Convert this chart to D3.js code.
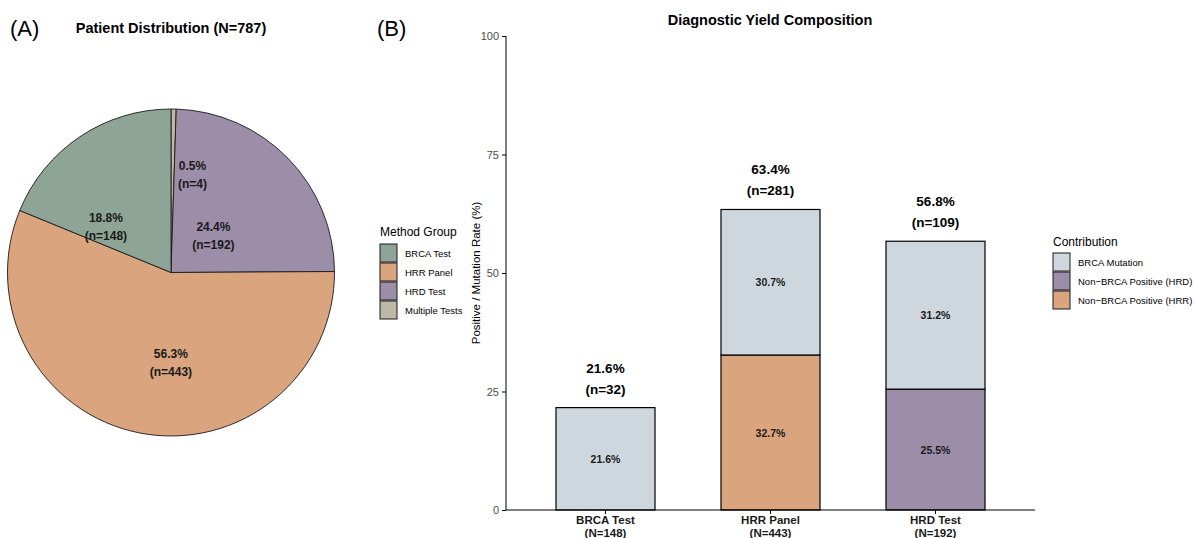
<!DOCTYPE html>
<html lang="en">
<head>
<meta charset="utf-8">
<title>Patient distribution and diagnostic yield</title>
<script src="https://d3js.org/d3.v7.min.js"></script>
<style>
  body { margin: 0; background: #fff; }
  svg text { font-family: "Liberation Sans", Arial, sans-serif; }
  .axis path, .axis line { stroke: #000; }
</style>
</head>
<body>
<script>
// ---- data: panel A (pie) ----
var pieGroups = ["Multiple Tests", "HRD Test", "HRR Panel", "BRCA Test"];
var pieCounts = [4, 192, 443, 148];
var piePct = ["0.5%", "24.4%", "56.3%", "18.8%"];
var legendA = ["BRCA Test", "HRR Panel", "HRD Test", "Multiple Tests"];

// ---- data: panel B (stacked bars) ----
var methods = ["BRCA Test", "HRR Panel", "HRD Test"];
var methodN = [148, 443, 192];
var brcaMut = [21.6, 30.7, 31.2];
var nonBrcaHRR = [0, 32.7, 0];
var nonBrcaHRD = [0, 0, 25.5];
var totalPct = [21.6, 63.4, 56.8];
var positives = [32, 281, 109];
var yTicks = [0, 25, 50, 75, 100];
var legendB = ["BRCA Mutation", "Non\u2212BRCA Positive (HRD)", "Non\u2212BRCA Positive (HRR)"];

var colA = {"BRCA Test": "#8ea497", "HRR Panel": "#d9a47e", "HRD Test": "#9c8da8", "Multiple Tests": "#bdb9a6"};
var colB = {"BRCA Mutation": "#cfd7de", "Non\u2212BRCA Positive (HRD)": "#9c8da8", "Non\u2212BRCA Positive (HRR)": "#d9a47e"};

var W = 1195, H = 538;
var svg = d3.select("body").append("svg").attr("width", W).attr("height", H);

// panel tags
svg.append("text").attr("x", 10).attr("y", 36).attr("font-size", 22).text("(A)");
svg.append("text").attr("x", 377).attr("y", 36).attr("font-size", 22).text("(B)");

// ================= panel A =================
var cx = 171, cy = 272.5, R = 163.5;
svg.append("text").attr("x", 171).attr("y", 33).attr("text-anchor", "middle")
   .attr("font-size", 14.5).attr("font-weight", "bold").text("Patient Distribution (N=787)");

var pieData = pieGroups.map(function(g, i){ return {g: g, n: pieCounts[i], p: piePct[i]}; });
var pie = d3.pie().sort(null).value(function(d){ return d.n; });
var arc = d3.arc().innerRadius(0).outerRadius(R);
var labelArc = d3.arc().innerRadius(R * 0.55).outerRadius(R * 0.55);
var arcs = pie(pieData);

var gPie = svg.append("g").attr("transform", "translate(" + cx + "," + cy + ")");
gPie.selectAll("path").data(arcs).enter().append("path")
    .attr("d", arc)
    .attr("fill", function(d){ return colA[d.data.g]; })
    .attr("stroke", "#1a1a1a").attr("stroke-width", 0.9);

// ggplot-ish label placement tweak
var nudge = {"BRCA Test": [-15, 28], "HRD Test": [-22, 25], "HRR Panel": [17, 1], "Multiple Tests": [20, -9]};
var lab = gPie.selectAll("g.lab").data(arcs).enter().append("g").attr("class", "lab")
    .attr("transform", function(d){
      var c = labelArc.centroid(d), o = nudge[d.data.g];
      return "translate(" + (c[0] + o[0]) + "," + (c[1] + o[1]) + ")";
    });
lab.append("text").attr("text-anchor", "middle").attr("y", -4)
   .attr("font-size", 12).attr("font-weight", "bold").attr("fill", "#1a1a1a")
   .text(function(d){ return d.data.p; });
lab.append("text").attr("text-anchor", "middle").attr("y", 14)
   .attr("font-size", 12).attr("font-weight", "bold").attr("fill", "#1a1a1a")
   .text(function(d){ return "(n=" + d.data.n + ")"; });

// legend A
var lgA = svg.append("g").attr("transform", "translate(380,232)");
lgA.append("text").attr("x", 0).attr("y", 4).attr("font-size", 12).text("Method Group");
var itA = lgA.selectAll("g.it").data(legendA).enter().append("g")
    .attr("transform", function(d, i){ return "translate(0," + (12 + i * 19) + ")"; });
itA.append("rect").attr("width", 17).attr("height", 18)
   .attr("fill", function(d){ return colA[d]; }).attr("stroke", "#1a1a1a").attr("stroke-width", 1);
itA.append("text").attr("x", 25).attr("y", 13).attr("font-size", 9.5).text(function(d){ return d; });

// ================= panel B =================
var x0 = 506, x1 = 1035, yTop = 36, yBot = 510;
var x = d3.scaleBand().domain(methods).range([x0, x1]).paddingInner(0.4).paddingOuter(0.303);
var y = d3.scaleLinear().domain([0, 100]).range([yBot, yTop]);

svg.append("text").attr("x", 770).attr("y", 25).attr("text-anchor", "middle")
   .attr("font-size", 14.5).attr("font-weight", "bold").text("Diagnostic Yield Composition");

// stack order bottom->top: HRR / HRD non-BRCA, then BRCA mutation
var rows = methods.map(function(m, i){
  return {m: m, hrr: nonBrcaHRR[i], hrd: nonBrcaHRD[i], brca: brcaMut[i]};
});
var stack = d3.stack().keys(["hrr", "hrd", "brca"]);
var series = stack(rows);
var keyName = {hrr: "Non\u2212BRCA Positive (HRR)", hrd: "Non\u2212BRCA Positive (HRD)", brca: "BRCA Mutation"};

var gBars = svg.append("g");
series.forEach(function(s){
  var seg = s.filter(function(d){ return d[1] - d[0] > 0; });
  gBars.selectAll("rect." + s.key).data(seg).enter().append("rect")
      .attr("class", s.key)
      .attr("x", function(d){ return x(d.data.m); })
      .attr("width", x.bandwidth())
      .attr("y", function(d){ return y(d[1]); })
      .attr("height", function(d){ return y(d[0]) - y(d[1]); })
      .attr("fill", colB[keyName[s.key]])
      .attr("stroke", "#000").attr("stroke-width", 1.2);
  gBars.selectAll("text." + s.key).data(seg).enter().append("text")
      .attr("class", s.key)
      .attr("x", function(d){ return x(d.data.m) + x.bandwidth() / 2; })
      .attr("y", function(d){ return y((d[0] + d[1]) / 2) + 4; })
      .attr("text-anchor", "middle").attr("font-size", 10.5).attr("font-weight", "bold")
      .attr("fill", "#1a1a1a")
      .text(function(d){ return (d[1] - d[0]).toFixed(1) + "%"; });
});

// totals above bars
var tops = gBars.selectAll("g.top").data(methods).enter().append("g").attr("class", "top")
    .attr("transform", function(d, i){
      return "translate(" + (x(d) + x.bandwidth() / 2) + "," + y(totalPct[i]) + ")";
    });
tops.append("text").attr("y", -35).attr("text-anchor", "middle").attr("font-size", 13.5)
    .attr("font-weight", "bold").text(function(d, i){ return totalPct[i].toFixed(1) + "%"; });
tops.append("text").attr("y", -14).attr("text-anchor", "middle").attr("font-size", 13.5)
    .attr("font-weight", "bold").text(function(d, i){ return "(n=" + positives[i] + ")"; });

// axes
var yAxis = d3.axisLeft(y).tickValues(yTicks).tickSize(4).tickPadding(3);
var gy = svg.append("g").attr("class", "axis").attr("transform", "translate(" + x0 + ",0)").call(yAxis);
gy.select(".domain").attr("d", "M0," + yBot + "V" + yTop);
gy.selectAll(".tick text").attr("fill", "#4d4d4d").attr("font-size", 11);

var xAxis = d3.axisBottom(x).tickSize(4).tickFormat("");
var gx = svg.append("g").attr("class", "axis").attr("transform", "translate(0," + yBot + ")").call(xAxis);
gx.select(".domain").attr("d", "M" + x0 + ",0H" + x1);
gx.selectAll(".tick").each(function(d, i){
  var t = d3.select(this);
  t.append("text").attr("y", 14).attr("fill", "#1a1a1a").attr("font-size", 11.5)
   .attr("font-weight", "bold").attr("text-anchor", "middle").text(d);
  t.append("text").attr("y", 26.5).attr("fill", "#1a1a1a").attr("font-size", 11.5)
   .attr("font-weight", "bold").attr("text-anchor", "middle").text("(N=" + methodN[i] + ")");
});

svg.append("text").attr("transform", "translate(480," + ((yTop + yBot) / 2) + ") rotate(-90)")
   .attr("text-anchor", "middle").attr("font-size", 11.5).text("Positive / Mutation Rate (%)");

// legend B
var lgB = svg.append("g").attr("transform", "translate(1053,242)");
lgB.append("text").attr("x", 0).attr("y", 4).attr("font-size", 12).text("Contribution");
var itB = lgB.selectAll("g.it").data(legendB).enter().append("g")
    .attr("transform", function(d, i){ return "translate(0," + (11 + i * 19) + ")"; });
itB.append("rect").attr("width", 17).attr("height", 18)
   .attr("fill", function(d){ return colB[d]; }).attr("stroke", "#1a1a1a").attr("stroke-width", 1);
itB.append("text").attr("x", 25).attr("y", 13).attr("font-size", 9.5).text(function(d){ return d; });
</script>
</body>
</html>
